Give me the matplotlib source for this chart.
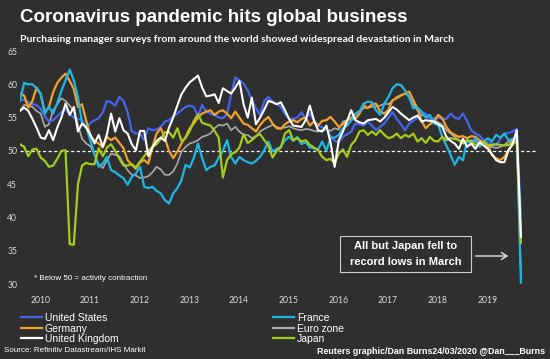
import matplotlib
matplotlib.use("Agg")
import matplotlib.pyplot as plt
from matplotlib.patches import Rectangle

# monthly PMI readings, Feb 2010 .. Mar 2020
us = [57.8, 57.6, 57.3, 57.0, 56.9, 56.3, 55.2, 54.4, 54.6, 55.2, 55.8,
      56.3, 55.5, 55.0, 54.8, 54.6, 53.4, 54.2, 54.6, 54.9, 55.8, 57.5, 57.3,
      56.8, 58.1, 57.5, 55.8, 53.0, 52.6, 52.6, 51.6, 53.4, 53.1, 53.2, 53.6,
      54.4, 54.6, 55.2, 55.6, 56.1, 56.6, 56.8, 56.6, 55.2, 56.9, 55.9, 55.6,
      55.4, 55.0, 54.9, 55.5, 58.5, 61.0, 60.6, 60.1, 59.1, 57.6, 56.4, 55.4,
      57.5, 58.1, 57.4, 57.1, 56.6, 55.5, 54.8, 54.8, 55.0, 55.8, 54.8, 55.6,
      54.5, 53.8, 53.5, 53.3, 52.3, 51.5, 51.3, 52.1, 52.5, 52.9, 54.1, 54.0,
      53.8, 54.4, 53.8, 53.1, 53.6, 54.1, 55.0, 55.8, 54.8, 54.0, 53.1, 54.1,
      54.5, 55.0, 55.8, 55.6, 54.8, 54.9, 55.0, 54.8, 54.8, 55.6, 55.0, 54.8,
      55.6, 54.5, 53.1, 52.6, 52.3, 51.6, 51.3, 51.0, 50.8, 51.8, 52.6, 52.7,
      52.9, 53.3, 40.5]

germany = [58.6, 58.3, 56.5, 57.5, 59.5, 58.5, 55.8, 56.6, 58.8, 60.2, 61.0,
           61.6, 60.5, 59.3, 56.6, 57.0, 54.5, 52.3, 51.5, 51.1, 50.5, 52.1, 51.6,
           52.0, 51.2, 50.4, 48.6, 47.9, 47.3, 48.3, 48.6, 48.1, 50.6, 52.6, 53.4,
           51.9, 50.0, 48.9, 49.9, 51.1, 52.1, 53.4, 54.1, 55.0, 55.6, 55.9, 56.1,
           55.4, 55.9, 56.1, 55.6, 54.9, 55.9, 55.0, 54.1, 53.9, 53.4, 52.9, 53.9,
           54.6, 55.1, 54.1, 53.4, 53.3, 54.0, 54.4, 54.6, 54.3, 54.8, 55.0, 53.8,
           54.4, 53.8, 54.5, 54.6, 55.1, 54.4, 53.6, 54.0, 54.5, 54.9, 54.8, 55.6,
           56.9, 56.4, 57.0, 57.1, 55.9, 55.6, 56.2, 57.6, 57.9, 58.3, 58.6, 58.9,
           57.6, 56.4, 54.5, 53.4, 54.0, 54.4, 55.4, 54.9, 53.6, 52.8, 52.4, 52.1,
           52.2, 51.9, 52.2, 52.1, 51.6, 51.2, 50.9, 49.4, 48.9, 48.6, 49.1, 50.1,
           50.9, 51.8, 37.2]

uk = [56.0, 56.5, 56.0, 54.8, 53.5, 52.0, 51.8, 53.1, 51.6, 53.5, 55.0,
      57.1, 55.4, 56.6, 52.9, 54.1, 53.5, 52.4, 51.1, 52.4, 50.6, 52.5, 55.6,
      52.9, 54.9, 53.1, 52.6, 51.0, 50.1, 53.0, 53.0, 49.2, 50.5, 51.5, 52.0,
      51.5, 53.5, 55.0, 56.8, 58.5, 59.5, 60.3, 60.8, 61.3, 59.5, 58.2, 58.3,
      58.5, 57.2, 59.4, 59.0, 58.6, 59.5, 60.5, 57.0, 55.0, 58.0, 54.0, 55.0,
      56.2, 57.5, 57.3, 57.0, 57.3, 56.1, 54.8, 53.8, 53.7, 53.6, 54.6, 56.8,
      54.6, 53.1, 52.9, 53.8, 51.3, 47.6, 51.6, 52.9, 54.5, 56.1, 54.6, 54.3,
      54.1, 54.6, 54.7, 54.8, 54.4, 55.0, 55.8, 56.6, 56.2, 55.6, 55.1, 54.6,
      55.0, 55.3, 54.4, 54.6, 54.5, 54.4, 54.0, 53.6, 52.1, 51.5, 51.1, 50.3,
      51.8, 50.6, 51.1, 50.3, 51.3, 50.8, 50.3, 49.5, 48.6, 48.3, 48.3, 50.1,
      51.1, 53.1, 37.1]

france = [57.5, 60.2, 60.0, 60.0, 59.4, 58.6, 55.6, 56.6, 55.6, 57.2, 59.0,
          60.6, 62.2, 60.6, 58.1, 54.1, 53.6, 51.5, 49.5, 47.6, 48.1, 49.1, 47.1,
          46.8, 46.3, 45.9, 44.9, 46.1, 46.6, 47.6, 44.6, 44.4, 44.6, 44.0, 43.6,
          42.6, 42.1, 43.6, 44.4, 45.6, 47.9, 47.5, 49.0, 51.1, 48.9, 47.1, 47.6,
          47.8, 49.0, 50.0, 51.6, 49.1, 48.1, 49.1, 48.6, 48.3, 48.1, 48.5, 49.1,
          50.1, 51.4, 49.9, 50.3, 50.6, 51.6, 52.1, 51.5, 52.1, 51.0, 51.3, 50.5,
          50.4, 50.2, 51.4, 50.0, 51.9, 52.0, 52.4, 53.4, 53.8, 54.5, 55.5, 55.9,
          57.1, 57.4, 57.3, 56.1, 55.4, 57.1, 58.1, 59.4, 60.0, 59.9, 59.1, 58.0,
          56.4, 56.5, 55.9, 55.0, 55.4, 54.1, 53.9, 52.1, 50.8, 49.4, 47.9, 49.1,
          48.6, 51.6, 51.0, 51.9, 50.6, 51.4, 51.9, 51.4, 52.4, 52.0, 52.6, 51.6,
          51.8, 52.0, 30.2]

euro_zone = [56.1, 56.9, 56.8, 56.6, 56.0, 55.6, 53.6, 54.0, 56.1, 57.0, 57.9,
             57.5, 56.8, 56.0, 53.9, 51.8, 51.1, 50.7, 49.5, 48.0, 47.4, 48.6, 49.6,
             49.4, 49.2, 48.1, 47.1, 46.4, 46.3, 45.9, 46.0, 46.2, 46.8, 47.6, 47.2,
             46.4, 46.4, 46.9, 48.1, 49.9, 50.6, 51.1, 51.3, 51.6, 52.1, 52.3, 52.6,
             53.4, 53.9, 53.8, 54.1, 53.1, 53.6, 52.9, 52.4, 52.4, 51.9, 52.2, 52.9,
             53.3, 53.6, 53.9, 53.6, 53.4, 53.5, 53.7, 53.4, 53.2, 53.1, 53.3, 53.2,
             53.0, 52.9, 53.1, 53.2, 53.0, 53.4, 53.2, 54.4, 54.6, 55.0, 55.6, 56.0,
             56.4, 56.5, 56.6, 56.7, 56.8, 57.1, 57.0, 57.6, 58.1, 58.4, 58.6, 58.2,
             57.0, 56.1, 55.4, 55.2, 54.9, 54.6, 54.3, 53.9, 53.1, 52.6, 52.1, 51.6,
             51.5, 51.4, 51.6, 51.4, 51.1, 50.9, 50.6, 50.6, 50.4, 50.6, 50.9, 51.4,
             51.6, 51.9, 31.4]

japan = [51.0, 50.6, 49.2, 50.2, 50.3, 49.0, 48.5, 47.6, 47.8, 48.8, 50.0,
         50.1, 36.0, 35.9, 45.0, 47.8, 48.2, 48.0, 48.0, 50.4, 49.2, 50.5, 51.0,
         50.0, 48.8, 47.8, 47.8, 48.0, 47.5, 48.4, 49.2, 50.0, 50.6, 51.0, 51.8,
         52.8, 52.8, 52.0, 53.4, 51.5, 51.9, 53.0, 54.5, 55.5, 54.2, 54.0, 53.8,
         53.0, 52.0, 46.0, 48.6, 49.5, 49.8, 50.5, 52.5, 51.2, 51.6, 52.2, 52.5,
         51.6, 50.8, 49.0, 50.0, 50.5, 52.6, 53.1, 51.6, 51.9, 51.4, 51.6, 50.9,
         50.5, 50.1, 49.1, 48.6, 48.8, 48.1, 49.6, 50.2, 49.1, 50.9, 51.6, 52.9,
         53.1, 52.4, 52.9, 52.4, 53.1, 52.4, 51.9, 52.1, 52.6, 51.9, 52.4, 52.1,
         52.6, 51.4, 51.9, 51.2, 52.1, 51.5, 51.4, 52.1, 51.6, 51.9, 51.8, 51.6,
         51.1, 51.6, 51.4, 50.9, 51.0, 51.4, 50.8, 50.9, 51.0, 50.9, 50.8, 50.9,
         51.4, 51.2, 36.2]

years = list(range(2010, 2020))
yticks = [30, 35, 40, 45, 50, 55, 60, 65]

series = [
    ("Euro zone", euro_zone, "#ababab", 1.2),
    ("United States", us, "#4466ee", 1.6),
    ("Germany", germany, "#f2a22c", 1.6),
    ("France", france, "#1fb6e4", 1.6),
    ("Japan", japan, "#a5cc1c", 1.6),
    ("United Kingdom", uk, "#ffffff", 1.5),
]
legend_order = ["United States", "Germany", "United Kingdom",
                "France", "Euro zone", "Japan"]

bg = "#2f2f2f"
W, H = 550, 359
fig = plt.figure(figsize=(W / 100, H / 100), dpi=100, facecolor=bg)


def fx(px):
    return px / W


def fy(py):
    return 1 - py / H


ax = fig.add_axes([fx(20), fy(284), fx(537) - fx(20), fy(51) - fy(284)])
ax.set_facecolor(bg)

n = len(uk)
t = [2010 + (i + 1) / 12 for i in range(n)]

handles = {}
for name, vals, col, lw in series:
    ln, = ax.plot(t, vals, color=col, lw=lw, label=name, solid_joinstyle="round")
    handles[name] = ln

ax.axhline(50, color="white", lw=0.9, ls=(0, (2.5, 2)), zorder=0)

ax.set_xlim(t[0], 2020.49)
ax.set_ylim(30, 65)
ax.set_yticks(yticks)
ax.set_xticks([y + 0.49 for y in years])
ax.set_xticklabels([str(y) for y in years])
for s in ax.spines.values():
    s.set_visible(False)
ax.tick_params(length=0, colors="#dcdcdc", labelsize=6.2)
ax.tick_params(axis="x", pad=8.5)
ax.tick_params(axis="y", pad=2)
for lab in ax.get_xticklabels() + ax.get_yticklabels():
    lab.set_family("Lato")

fig.text(fx(20), fy(17), "Coronavirus pandemic hits global business",
         color="white", fontsize=13.5, fontweight="bold",
         family="Liberation Sans", va="center", ha="left")
fig.text(fx(20), fy(39),
         "Purchasing manager surveys from around the world showed widespread devastation in March",
         color="white", fontsize=7.45, fontweight="bold", family="Lato",
         va="center", ha="left")

fig.text(fx(34), fy(279), "* Below 50 = activity contraction", color="white",
         fontsize=5.8, family="Liberation Sans", va="center", ha="left")

# callout
fig.patches.append(Rectangle((fx(340), fy(272)), fx(471) - fx(340), fy(236) - fy(272),
                             transform=fig.transFigure, facecolor=bg,
                             edgecolor="#cfcfcf", lw=0.8, zorder=5))
fig.text(fx(405.5), fy(246), "All but Japan fell to", color="white", fontsize=8.0,
         fontweight="bold", family="Liberation Sans", ha="center", va="center", zorder=6)
fig.text(fx(405.5), fy(262), "record lows in March", color="white", fontsize=8.0,
         fontweight="bold", family="Liberation Sans", ha="center", va="center", zorder=6)
fig.add_artist(matplotlib.patches.FancyArrowPatch(
    (fx(473), fy(256)), (fx(511), fy(256)), transform=fig.transFigure,
    arrowstyle="->,head_length=4,head_width=2.5", color="#e6e6e6", lw=1.0))

leg = fig.legend([handles[k] for k in legend_order], legend_order,
                 loc="upper left", bbox_to_anchor=(fx(21), fy(313)), ncol=2,
                 frameon=False, fontsize=7.5, handlelength=2.0,
                 handletextpad=0.3, labelspacing=0.05, columnspacing=14.8,
                 borderaxespad=0, borderpad=0)
for txt in leg.get_texts():
    txt.set_color("white")
    txt.set_family("Liberation Sans")
for ln in leg.get_lines():
    ln.set_linewidth(1.6)

fig.text(fx(4), fy(351), "Source: Refinitiv Datastream/IHS Markit", color="white",
         fontsize=5.8, family="Liberation Sans", va="center", ha="left")
fig.text(fx(545), fy(351), "Reuters graphic/Dan Burns24/03/2020 @Dan___Burns",
         color="white", fontsize=6.4, fontweight="bold", family="Liberation Sans",
         va="center", ha="right")

fig.savefig("out.png", dpi=100, facecolor=bg)
